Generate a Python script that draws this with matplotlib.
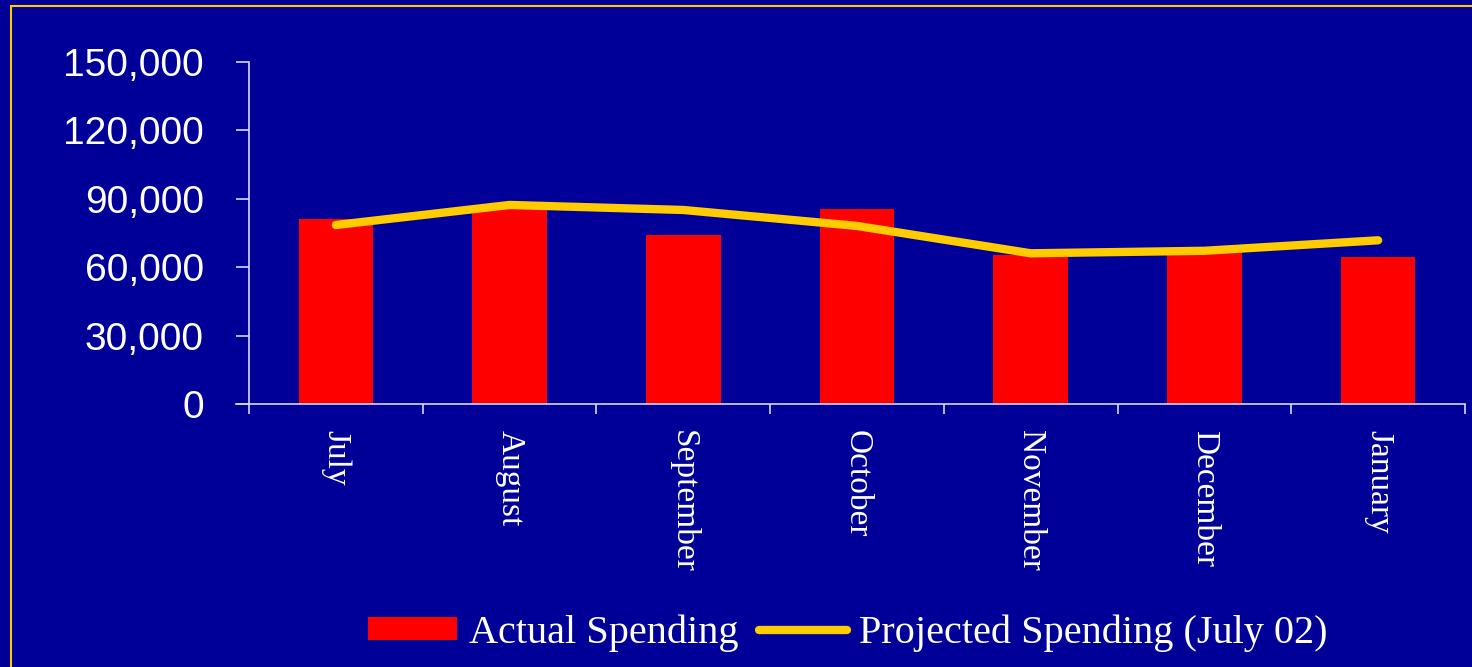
import matplotlib.pyplot as plt
from matplotlib.patches import Rectangle
from matplotlib.ticker import FuncFormatter, FixedLocator
import numpy as np

# data
months = ["July", "August", "September", "October", "November", "December", "January"]
actual = [81000, 87500, 74300, 85400, 65400, 66700, 64300]
projected = [78500, 87300, 85100, 78100, 66100, 67200, 71800]
yticks = [0, 30000, 60000, 90000, 120000, 150000]

bg = "#000099"
axis_col = "#d8d8f0"

fig = plt.figure(figsize=(14.72, 6.67), dpi=100, facecolor=bg)
ax = fig.add_axes([236 / 1472, 1 - 404 / 667, (1465 - 236) / 1472, (404 - 62) / 667])
ax.set_facecolor(bg)

x = np.arange(len(months))
bars = ax.bar(x, actual, width=0.43, color="#ff0000", label="Actual Spending", zorder=2)
line, = ax.plot(x, projected, color="#ffcc00", lw=6, solid_capstyle="round",
                solid_joinstyle="round", label="Projected Spending (July 02)", zorder=3)

ax.set_xlim(-0.5 - 13 / 173.7, len(months) - 0.5)
ax.set_ylim(0, 150000)

for s in ["top", "right"]:
    ax.spines[s].set_visible(False)
ax.spines["left"].set_position(("data", -0.5))
ax.spines["left"].set_color(axis_col)
ax.spines["bottom"].set_color(axis_col)
ax.spines["left"].set_linewidth(1.2)
ax.spines["bottom"].set_linewidth(1.2)

ax.set_yticks(yticks)
ax.yaxis.set_major_formatter(FuncFormatter(lambda v, p: f"{int(v):,}"))
ax.tick_params(axis="y", colors=axis_col, length=9.4, width=1.2, pad=23)
for t in ax.get_yticklabels():
    t.set_color("white")
    t.set_fontfamily("Liberation Sans")
    t.set_fontsize(28)

ax.set_xticks(x)
ax.set_xticklabels(months, rotation=270, family="Liberation Serif", fontsize=24,
                   color="white", va="top", ha="center")
ax.tick_params(axis="x", which="major", length=0, pad=19)
ax.xaxis.set_minor_locator(FixedLocator(np.arange(-0.5, len(months), 1.0)))
ax.tick_params(axis="x", which="minor", length=7.2, width=1.2, color=axis_col)

leg = fig.legend([bars, line], ["Actual Spending", "Projected Spending (July 02)"],
                 loc="center", bbox_to_anchor=(848 / 1472, 1 - 633 / 667),
                 ncol=2, frameon=False, prop={"family": "Liberation Serif", "size": 29},
                 handlelength=2.2, handleheight=0.5, handletextpad=0.3,
                 columnspacing=0.5)
for t in leg.get_texts():
    t.set_color("white")

# yellow slide border
fig.patches.append(Rectangle((11 / 1472, -0.1), 1.2, (667 - 6) / 667 + 0.1,
                             transform=fig.transFigure, fill=False,
                             edgecolor="#ffcc00", lw=1.5))

fig.savefig("out.png", dpi=100, facecolor=bg)
